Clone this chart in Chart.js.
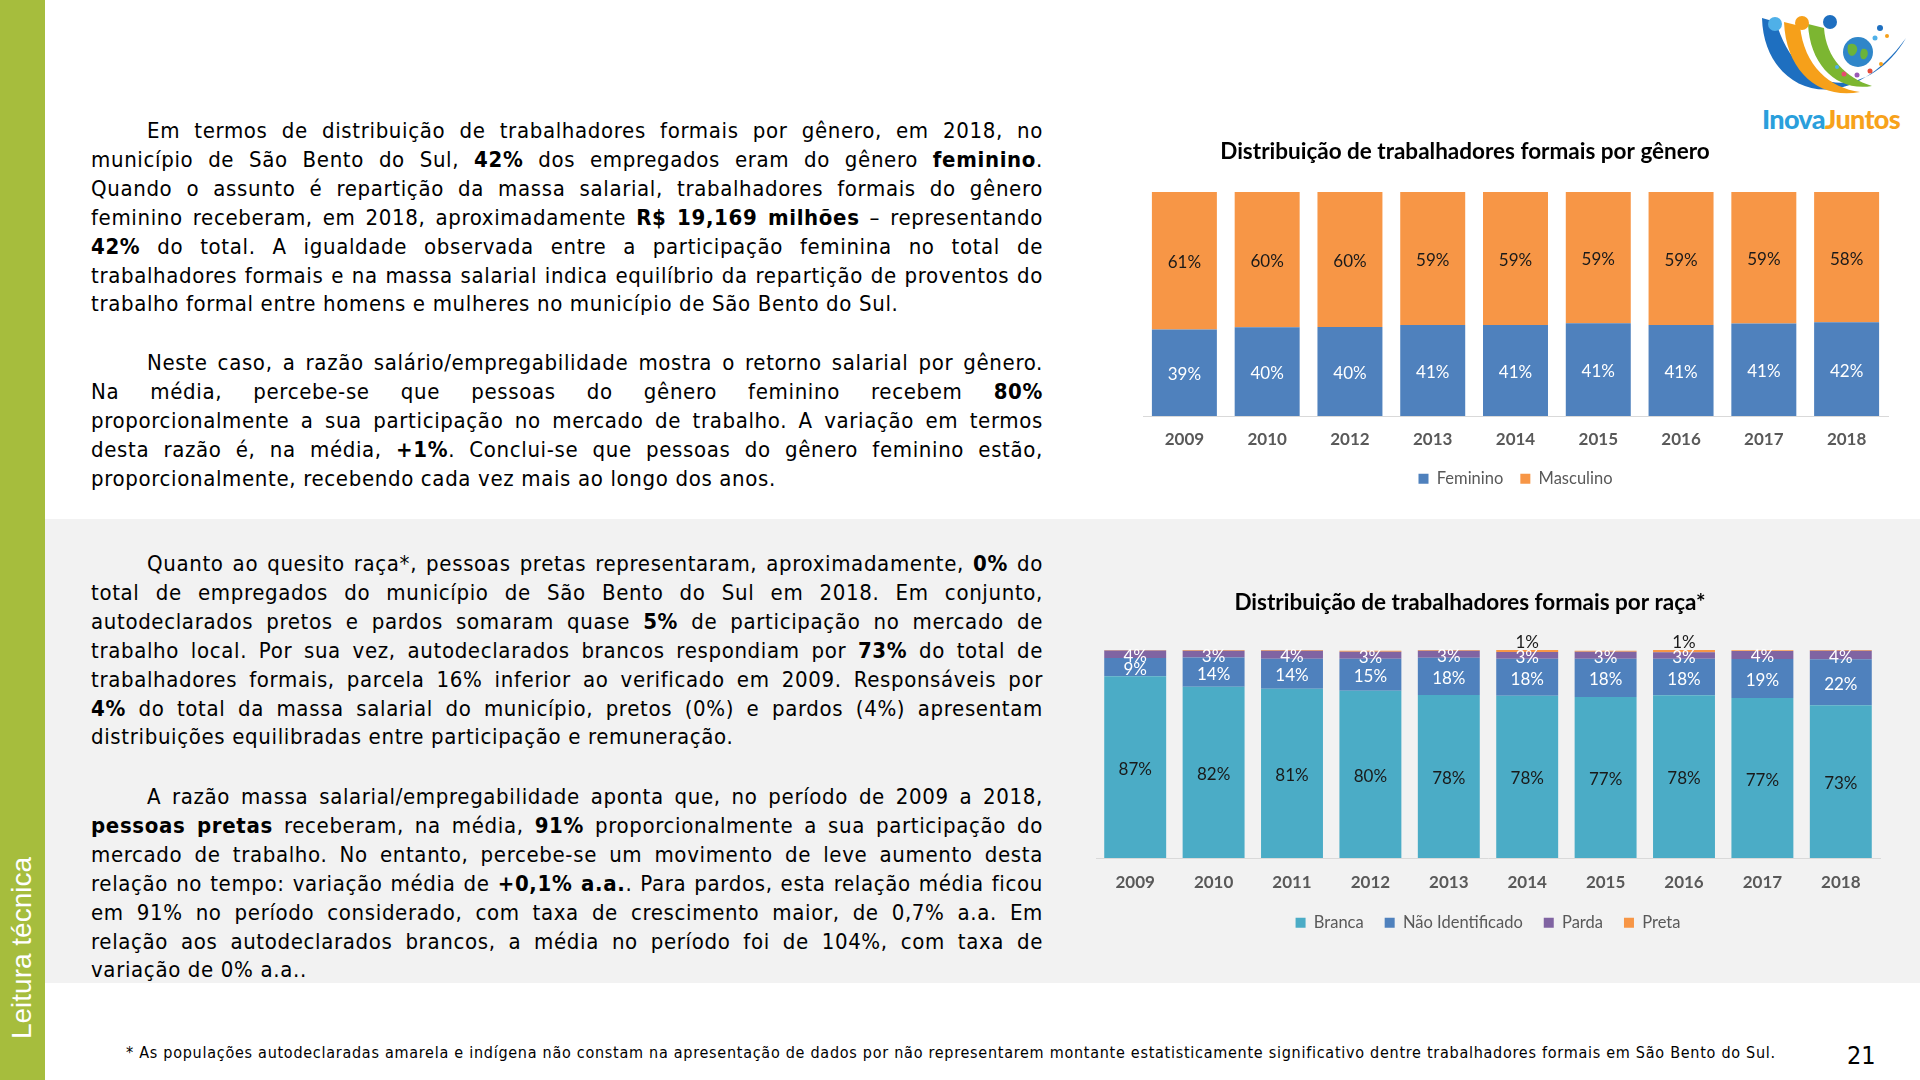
<!DOCTYPE html>
<html>
<head>
<meta charset="utf-8">
<script src="https://cdn.jsdelivr.net/npm/chart.js@4.4.0/dist/chart.umd.min.js"></script>
<style>
html, body { margin: 0; padding: 0; }
body { width: 1920px; height: 1080px; position: relative; overflow: hidden; background: #fff;
       font-family: 'DejaVu Sans Condensed', 'DejaVu Sans', sans-serif; color: #000; }
#side { position: absolute; left: 0; top: 0; width: 45px; height: 1080px; background: #a6bd3d; }
#side span { position: absolute; left: 22px; top: 948px; transform: translate(-50%, -50%) rotate(-90deg);
             color: #fff; font: 28px 'Liberation Sans', Arial, sans-serif; white-space: nowrap; }
#band { position: absolute; left: 45px; top: 519px; width: 1875px; height: 464px; background: #f2f2f2; }
.para { position: absolute; left: 91px; width: 952px; font-size: 22px; line-height: 28.9px; letter-spacing: 0.65px; }
.ln { white-space: nowrap; text-align: justify; text-align-last: justify; }
.ln.first { padding-left: 56px; }
.ln.last { text-align-last: left; }
#nota { position: absolute; left: 126px; top: 1043px; font-size: 16px; white-space: nowrap; }
#pag { position: absolute; left: 1847px; top: 1041px; font-size: 25px; }
#logo { position: absolute; left: 1740px; top: 0; }
canvas { position: absolute; }
</style>
</head>
<body>
<div id="side"><span>Leitura técnica</span></div>
<div id="band"></div>

<div class="para" style="top:117px">
  <div class="ln first">Em termos de distribuição de trabalhadores formais por gênero, em 2018, no</div>
  <div class="ln">município de São Bento do Sul, <b>42%</b> dos empregados eram do gênero <b>feminino</b>.</div>
  <div class="ln">Quando o assunto é repartição da massa salarial, trabalhadores formais do gênero</div>
  <div class="ln">feminino receberam, em 2018, aproximadamente <b>R$ 19,169 milhões</b> – representando</div>
  <div class="ln"><b>42%</b> do total. A igualdade observada entre a participação feminina no total de</div>
  <div class="ln">trabalhadores formais e na massa salarial indica equilíbrio da repartição de proventos do</div>
  <div class="ln last">trabalho formal entre homens e mulheres no município de São Bento do Sul.</div>
</div>

<div class="para" style="top:349px">
  <div class="ln first">Neste caso, a razão salário/empregabilidade mostra o retorno salarial por gênero.</div>
  <div class="ln">Na média, percebe-se que pessoas do gênero feminino recebem <b>80%</b></div>
  <div class="ln">proporcionalmente a sua participação no mercado de trabalho. A variação em termos</div>
  <div class="ln">desta razão é, na média, <b>+1%</b>. Conclui-se que pessoas do gênero feminino estão,</div>
  <div class="ln last">proporcionalmente, recebendo cada vez mais ao longo dos anos.</div>
</div>

<div class="para" style="top:550px">
  <div class="ln first">Quanto ao quesito raça*, pessoas pretas representaram, aproximadamente, <b>0%</b> do</div>
  <div class="ln">total de empregados do município de São Bento do Sul em 2018. Em conjunto,</div>
  <div class="ln">autodeclarados pretos e pardos somaram quase <b>5%</b> de participação no mercado de</div>
  <div class="ln">trabalho local. Por sua vez, autodeclarados brancos respondiam por <b>73%</b> do total de</div>
  <div class="ln">trabalhadores formais, parcela 16% inferior ao verificado em 2009. Responsáveis por</div>
  <div class="ln"><b>4%</b> do total da massa salarial do município, pretos (0%) e pardos (4%) apresentam</div>
  <div class="ln last">distribuições equilibradas entre participação e remuneração.</div>
</div>

<div class="para" style="top:783px">
  <div class="ln first">A razão massa salarial/empregabilidade aponta que, no período de 2009 a 2018,</div>
  <div class="ln"><b>pessoas pretas</b> receberam, na média, <b>91%</b> proporcionalmente a sua participação do</div>
  <div class="ln">mercado de trabalho. No entanto, percebe-se um movimento de leve aumento desta</div>
  <div class="ln">relação no tempo: variação média de <b>+0,1% a.a.</b>. Para pardos, esta relação média ficou</div>
  <div class="ln">em 91% no período considerado, com taxa de crescimento maior, de 0,7% a.a. Em</div>
  <div class="ln">relação aos autodeclarados brancos, a média no período foi de 104%, com taxa de</div>
  <div class="ln last">variação de 0% a.a..</div>
</div>

<div id="nota">* As populações autodeclaradas amarela e indígena não constam na apresentação de dados por não representarem montante estatisticamente significativo dentre trabalhadores formais em São Bento do Sul.</div>
<div id="pag">21</div>

<svg id="logo" width="180" height="140" viewBox="0 0 180 140">
  <path d="M22,18 C24,92 104,124 166,38 C128,102 58,98 36,22 Z" fill="#1e6fc0"/>
  <path d="M44,22 C46,72 80,100 120,92 C90,88 64,66 60,26 Z" fill="#f6a01a"/>
  <path d="M68,24 C70,66 98,92 132,86 C106,78 86,58 84,28 Z" fill="#7cb631"/>
  <circle cx="35" cy="24" r="7" fill="#4fb0e8"/>
  <circle cx="62" cy="23" r="7" fill="#f6a01a"/>
  <circle cx="90" cy="22" r="7" fill="#1e6fc0"/>
  <circle cx="118" cy="52" r="15" fill="#2f86c9"/>
  <path d="M108,45 C114,41 120,47 116,53 C112,59 106,55 108,45 Z M122,49 C128,47 130,55 125,59 C120,61 119,53 122,49 Z" fill="#6bb33a"/>
  <circle cx="140" cy="28" r="3" fill="#1e6fc0"/>
  <circle cx="135" cy="38" r="2.5" fill="#4fb0e8"/>
  <circle cx="147" cy="36" r="2" fill="#f6a01a"/>
  <circle cx="104" cy="74" r="2.5" fill="#e74c6f"/>
  <circle cx="117" cy="75" r="2.5" fill="#9b59b6"/>
  <circle cx="130" cy="71" r="2.5" fill="#e74c3c"/>
  <circle cx="141" cy="64" r="2" fill="#f6a01a"/>
  <circle cx="97" cy="67" r="2" fill="#4fb0e8"/>
  <text x="22" y="129" font-family="Lato, 'Liberation Sans', sans-serif" font-weight="900" font-size="27" letter-spacing="-0.7">
    <tspan fill="#2a9fdc">Inova</tspan><tspan fill="#f7a21b">Juntos</tspan>
  </text>
</svg>

<canvas id="cGenero" width="850" height="372" style="left:1042px; top:125px"></canvas>
<canvas id="cRaca" width="824" height="363" style="left:1060px; top:578px"></canvas>

<script>
// Distribuição por gênero (%)
const generoAnos = ['2009', '2010', '2012', '2013', '2014', '2015', '2016', '2017', '2018'];
const feminino = [38.6, 39.7, 39.8, 40.6, 40.6, 41.4, 40.7, 41.3, 41.9];
const masculino = [61.4, 60.3, 60.2, 59.4, 59.4, 58.6, 59.3, 58.7, 58.1];

// Distribuição por raça (%)
const racaAnos = ['2009', '2010', '2011', '2012', '2013', '2014', '2015', '2016', '2017', '2018'];
const branca = [87.4, 82.3, 81.4, 80.4, 78.4, 78.0, 77.4, 78.2, 76.9, 73.4];
const naoIdentificado = [8.8, 14.1, 14.4, 15.4, 17.9, 17.8, 18.4, 17.6, 18.8, 22.1];
const parda = [3.5, 3.2, 3.8, 3.4, 3.3, 3.2, 3.4, 3.1, 3.8, 4.1];
const preta = [0.3, 0.4, 0.4, 0.4, 0.4, 1.0, 0.4, 1.1, 0.4, 0.4];

// ajusta as linhas justificadas que passam da largura
document.querySelectorAll('.ln').forEach(el => {
    const over = el.scrollWidth - el.clientWidth;
    if (over > 0) {
        el.style.letterSpacing = (0.65 - over / el.textContent.length) + 'px';
    }
});
const nota = document.getElementById('nota');
nota.style.letterSpacing = ((1650 - nota.offsetWidth) / nota.textContent.length) + 'px';

// rótulos de valor dentro das barras
const rotulos = {
    id: 'rotulos',
    afterDatasetsDraw(chart) {
        const ctx = chart.ctx;
        ctx.save();
        ctx.font = '17px Lato';
        ctx.textAlign = 'center';
        ctx.textBaseline = 'middle';
        chart.data.datasets.forEach((ds, i) => {
            const meta = chart.getDatasetMeta(i);
            meta.data.forEach((bar, j) => {
                const v = Math.round(ds.data[j]);
                if (v < 1) return;
                const y = ds.rotuloAcima ? bar.y - 7 : (bar.y + bar.base) / 2 + 2;
                ctx.fillStyle = ds.rotuloCor;
                ctx.fillText(v + '%', bar.x, y);
            });
        });
        ctx.restore();
    }
};

function opcoes(titulo, larguraY, padTitulo, padLegenda, extraX, barra) {
    return {
        responsive: false,
        animation: false,
        layout: { padding: { right: 4 } },
        datasets: { bar: { categoryPercentage: 1, barPercentage: barra } },
        plugins: {
            title: {
                display: true,
                text: titulo,
                color: '#000',
                font: { family: 'Lato', size: 22.5, weight: 'bold' },
                padding: padTitulo
            },
            legend: {
                position: 'bottom',
                fullSize: false,
                labels: {
                    boxWidth: 10,
                    boxHeight: 10,
                    padding: padLegenda,
                    color: '#595959',
                    font: { family: 'Lato', size: 16.5 }
                }
            },
            tooltip: { enabled: false }
        },
        scales: {
            x: {
                stacked: true,
                grid: { display: false, drawTicks: false },
                border: { display: true, color: '#d9d9d9', width: 1 },
                ticks: { color: '#595959', padding: 13, font: { family: 'Lato', size: 17, weight: 'bold' } },
                afterFit: s => { s.height += extraX; }
            },
            y: {
                stacked: true,
                min: 0,
                max: 100,
                ticks: { display: false },
                grid: { display: false, drawTicks: false },
                border: { display: false },
                afterFit: s => { s.width = larguraY; }
            }
        }
    };
}

new Chart(document.getElementById('cGenero'), {
    type: 'bar',
    data: {
        labels: generoAnos,
        datasets: [
            { label: 'Feminino', data: feminino, backgroundColor: '#4f81bd', rotuloCor: '#ffffff' },
            { label: 'Masculino', data: masculino, backgroundColor: '#f79646', rotuloCor: '#1a1a1a' }
        ]
    },
    options: opcoes('Distribuição de trabalhadores formais por gênero', 101, { top: 13.5, bottom: 26.5 }, 17, -9, 0.785),
    plugins: [rotulos]
});

const opRaca = opcoes('Distribuição de trabalhadores formais por raça*', 36, { top: 11.5, bottom: 33.5 }, 21, -13, 0.79);
opRaca.scales.x.ticks.padding = 14;

new Chart(document.getElementById('cRaca'), {
    type: 'bar',
    data: {
        labels: racaAnos,
        datasets: [
            { label: 'Branca', data: branca, backgroundColor: '#4bacc6', rotuloCor: '#1a1a1a' },
            { label: 'Não Identificado', data: naoIdentificado, backgroundColor: '#4f81bd', rotuloCor: '#ffffff' },
            { label: 'Parda', data: parda, backgroundColor: '#8064a2', rotuloCor: '#ffffff' },
            { label: 'Preta', data: preta, backgroundColor: '#f79646', rotuloCor: '#1a1a1a', rotuloAcima: true }
        ]
    },
    options: opRaca,
    plugins: [rotulos]
});
</script>
</body>
</html>
